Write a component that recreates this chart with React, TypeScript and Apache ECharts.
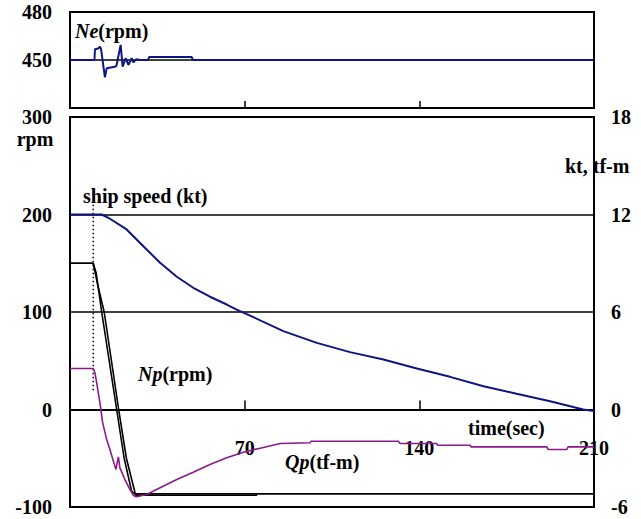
import React, { useEffect, useRef } from "react";
import * as echarts from "echarts";

// ---- data (time in sec) ----
const xTicks = [0, 70, 140, 210];

// Engine speed Ne (rpm), top panel
const neTime = [0, 9.8, 10.0, 11.3, 12.0, 12.4, 14.0, 14.7, 18.0, 18.6, 20.3, 21.1, 22.3, 23.4, 24.7, 25.4, 26.5, 28.1, 31.3, 31.7, 48.8, 49.3, 210];
const neRpm = [450, 450, 456.7, 457.2, 458.3, 457.2, 439.2, 444.8, 445.8, 446.3, 459.4, 445.8, 451.1, 446.9, 451.1, 448.6, 450.4, 450, 450, 451.8, 451.8, 450, 450];

// Ship speed (kt), right axis
const speedTime = [0, 9.2, 12.7, 16.0, 22.7, 29.4, 36.1, 42.8, 49.4, 56.1, 62.8, 66.8, 73.5, 85.5, 98.9, 112.2, 125.6, 139.0, 152.3, 165.7, 179.0, 192.4, 205.7, 210];
const speedKt = [12, 12, 12, 11.74, 11.08, 10.05, 9.03, 8.17, 7.49, 6.94, 6.46, 6.15, 5.68, 4.82, 4.1, 3.53, 3.08, 2.52, 2.01, 1.43, 0.97, 0.51, 0.0, -0.09];

// Propeller speed Np (rpm), left axis - two traces
const np1Time = [0, 9.3, 10.5, 12.7, 15.7, 18.7, 21.7, 24.7, 26, 210];
const np1Rpm = [150, 150, 140, 100, 50, 0, -50, -84, -86.5, -86.5];
const np2Time = [0, 9.3, 11.0, 13.7, 16.6, 19.5, 22.6, 26.3, 75];
const np2Rpm = [150, 150, 129, 100, 50, 0, -50, -88, -88];

// Propeller torque Qp (tf-m), right axis
const qpTime = [0, 9.3, 10.0, 10.7, 12.0, 13.1, 14.7, 16.0, 17.4, 18.4, 19.4, 20.0, 22.0, 24.0, 25.4, 26.7, 30.7, 36.1, 42.8, 49.4, 56.1, 62.8, 69.5, 76.2, 84.2, 96.2, 96.6, 131.6, 132.3, 147.0, 147.3, 160.3, 160.7, 191.1, 191.6, 199.1, 199.6, 210];
const qpTfm = [2.52, 2.52, 2.26, 1.64, 0.41, -0.82, -1.85, -2.46, -3.18, -3.69, -2.91, -3.59, -4.31, -4.92, -5.29, -5.37, -5.23, -4.82, -4.31, -3.86, -3.38, -2.97, -2.63, -2.38, -2.09, -2.05, -1.95, -1.95, -2.09, -2.09, -2.2, -2.2, -2.3, -2.3, -2.46, -2.46, -2.3, -2.3];

// Dotted marker at ship speed onset
const dotTime = [9.3, 9.3];
const dotRpm = [210, 19];

const zip = (a: number[], b: number[]) => a.map((v, i) => [v, b[i]]);

const FONT = "'Liberation Serif', 'Times New Roman', serif";
const BLUE = "#0b1683";
const PURPLE = "#8b1a8b";

export default function App() {
  const ref = useRef<HTMLDivElement>(null);
  useEffect(() => {
    if (!ref.current) return;
    const chart = echarts.init(ref.current, undefined, { renderer: "svg" });
    const lbl = {
      color: "#000",
      fontFamily: FONT,
      fontWeight: "bold" as const,
      fontSize: 20,
    };
    const textEl = (x: number, y: number, text: string, rich?: any, align = "left") => ({
      type: "text",
      x,
      y,
      style: {
        text,
        fill: "#000",
        font: `bold 20px ${FONT}`,
        align,
        verticalAlign: "middle",
        rich,
      },
    });
    const italicRich = {
      i: { fontStyle: "italic", fontWeight: "bold", fontSize: 20, fontFamily: FONT, fill: "#000" },
    };
    chart.setOption({
      animation: false,
      backgroundColor: "#fff",
      grid: [
        { left: 70, top: 12, width: 524, height: 96, show: true, borderColor: "#000", borderWidth: 2, backgroundColor: "transparent", containLabel: false, outerBoundsMode: "none" },
        { left: 70, top: 117, width: 524, height: 390, show: true, borderColor: "#000", borderWidth: 2, backgroundColor: "transparent", containLabel: false, outerBoundsMode: "none" },
      ],
      xAxis: [
        {
          gridIndex: 0, type: "value", min: xTicks[0], max: xTicks[3], interval: 70,
          axisLine: { show: true, lineStyle: { color: "#000", width: 2 } },
          axisTick: { show: true, inside: true, length: 7, lineStyle: { color: "#000", width: 1.5 } },
          axisLabel: { show: false },
          splitLine: { show: false },
        },
        {
          gridIndex: 1, type: "value", min: xTicks[0], max: xTicks[3], interval: 70,
          offset: -97.5,
          axisLine: { show: true, onZero: false, lineStyle: { color: "#000", width: 2 } },
          axisTick: { show: true, inside: true, length: 9, lineStyle: { color: "#000", width: 1.5 } },
          axisLabel: { ...lbl, showMinLabel: false, margin: 28 },
          splitLine: { show: false },
        },
      ],
      yAxis: [
        {
          gridIndex: 0, type: "value", min: 420, max: 480, interval: 30,
          axisLine: { show: true, lineStyle: { color: "#000", width: 2 } },
          axisTick: { show: false },
          axisLabel: { ...lbl, showMinLabel: false, margin: 18, padding: [6, 0, 0, 0] },
          splitLine: { show: true, lineStyle: { color: "#000", width: 1.5 } },
        },
        {
          gridIndex: 1, type: "value", min: -100, max: 300, interval: 100,
          axisLine: { show: true, onZero: false, lineStyle: { color: "#000", width: 2 } },
          axisTick: { show: false },
          axisLabel: { ...lbl, margin: 18, padding: [8, 0, 0, 0] },
          splitLine: { show: true, lineStyle: { color: "#000", width: 1.5 } },
        },
        {
          gridIndex: 1, type: "value", position: "right", min: -6, max: 18, interval: 6,
          axisLine: { show: true, onZero: false, lineStyle: { color: "#000", width: 2 } },
          axisTick: { show: false },
          axisLabel: { ...lbl, margin: 17, padding: [8, 0, 0, 0] },
          splitLine: { show: false },
        },
      ],
      series: [
        {
          type: "line", xAxisIndex: 0, yAxisIndex: 0, data: zip(neTime, neRpm),
          showSymbol: false, symbol: "none", lineStyle: { color: BLUE, width: 2 }, z: 5,
        },
        {
          type: "line", xAxisIndex: 1, yAxisIndex: 1, data: zip(dotTime, dotRpm),
          showSymbol: false, symbol: "none", lineStyle: { color: "#000", width: 1.5, type: [1.5, 2.5] },
        },
        {
          type: "line", xAxisIndex: 1, yAxisIndex: 2, data: zip(speedTime, speedKt),
          showSymbol: false, symbol: "none",
          lineStyle: { color: BLUE, width: 2 }, z: 4,
        },
        {
          type: "line", xAxisIndex: 1, yAxisIndex: 1, data: zip(np2Time, np2Rpm),
          showSymbol: false, symbol: "none", lineStyle: { color: "#000", width: 1.6 }, z: 3,
        },
        {
          type: "line", xAxisIndex: 1, yAxisIndex: 1, data: zip(np1Time, np1Rpm),
          showSymbol: false, symbol: "none", lineStyle: { color: "#000", width: 1.6 }, z: 3,
        },
        {
          type: "line", xAxisIndex: 1, yAxisIndex: 2, data: zip(qpTime, qpTfm),
          showSymbol: false, symbol: "none", lineStyle: { color: PURPLE, width: 1.6 }, z: 4,
        },
      ],
      graphic: [
        textEl(75, 31, "{i|Ne}(rpm)", italicRich),
        textEl(35, 139, "rpm", undefined, "center"),
        textEl(565, 166, "kt, tf-m"),
        textEl(83, 196, "ship speed (kt)"),
        textEl(138, 374, "{i|Np}(rpm)", italicRich),
        textEl(285, 462, "{i|Qp}(tf-m)", italicRich),
        textEl(468, 428, "time(sec)"),
      ],
    });
    return () => chart.dispose();
  }, []);
  return (
    <div
      ref={ref}
      style={{ position: "absolute", left: 0, top: 0, width: 641, height: 519, background: "#fff" }}
    />
  );
}
